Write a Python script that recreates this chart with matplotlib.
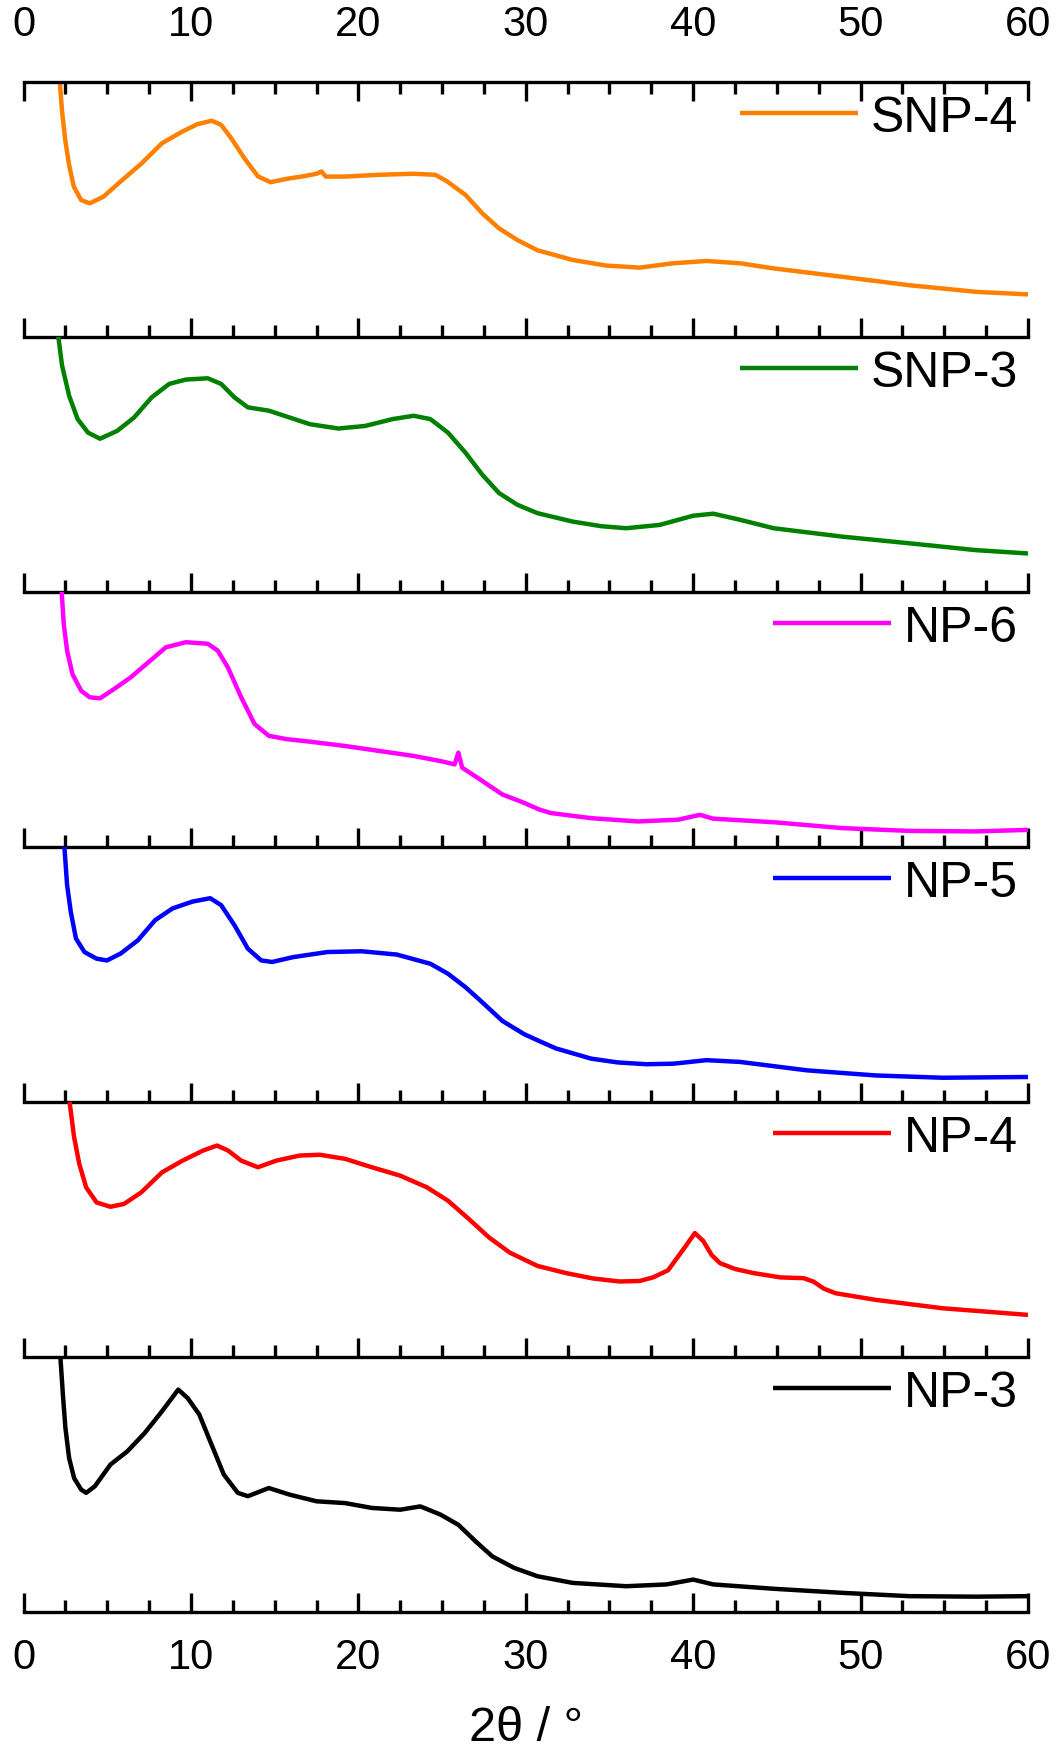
import numpy as np
import matplotlib
matplotlib.use('Agg')
import matplotlib.pyplot as plt
from matplotlib.ticker import MultipleLocator

plt.rcParams['font.family'] = ['Liberation Sans', 'DejaVu Sans']

# 2theta (deg) and intensity (normalised to panel height)
snp4_x = [2.05, 2.3, 2.5, 2.72, 3.0, 3.44, 3.95, 4.77, 5.8, 7.04, 8.27, 9.5, 10.4, 11.25,
          11.8, 12.4, 13.2, 14.0, 14.75, 15.7, 16.7, 17.5, 17.8, 18.05, 19.2, 21.2, 23.3,
          24.6, 25.3, 26.4, 27.4, 28.4, 29.5, 30.7, 32.8, 34.8, 36.8, 38.8, 40.8, 42.8,
          44.8, 48.9, 52.9, 56.9, 60.0]
snp4_y = [1.10, 0.885, 0.767, 0.675, 0.59, 0.537, 0.524, 0.55, 0.61, 0.68, 0.76, 0.806,
          0.835, 0.848, 0.832, 0.78, 0.70, 0.63, 0.607, 0.62, 0.63, 0.64, 0.649, 0.629,
          0.629, 0.636, 0.64, 0.636, 0.61, 0.557, 0.485, 0.426, 0.38, 0.34, 0.302, 0.28,
          0.272, 0.289, 0.298, 0.289, 0.269, 0.236, 0.203, 0.177, 0.167]

snp3_x = [1.98, 2.3, 2.72, 3.23, 3.85, 4.57, 5.6, 6.6, 7.65, 8.7, 9.7, 11.0, 11.8, 12.6,
          13.4, 14.65, 15.9, 17.1, 18.8, 20.4, 22.05, 23.3, 24.3, 25.35, 26.4, 27.4, 28.4,
          29.5, 30.7, 32.8, 34.5, 36.0, 38.0, 40.0, 41.2, 42.8, 44.8, 48.9, 52.9, 56.9, 60.0]
snp3_y = [1.05, 0.888, 0.77, 0.678, 0.625, 0.601, 0.632, 0.684, 0.763, 0.816, 0.833, 0.838,
          0.816, 0.763, 0.724, 0.711, 0.684, 0.658, 0.641, 0.651, 0.678, 0.691, 0.678, 0.625,
          0.546, 0.46, 0.388, 0.342, 0.309, 0.276, 0.258, 0.25, 0.263, 0.299, 0.307, 0.283,
          0.25, 0.217, 0.191, 0.164, 0.151]

np6_x = [2.2, 2.4, 2.6, 2.92, 3.44, 3.95, 4.57, 5.4, 6.4, 7.45, 8.5, 9.7, 11.0, 11.6, 12.2,
         13.0, 13.8, 14.65, 15.7, 17.1, 19.2, 21.2, 23.3, 24.9, 25.75, 25.97, 26.2, 27.4,
         28.6, 29.9, 30.8, 31.5, 33.9, 36.7, 39.1, 40.4, 41.2, 44.8, 48.9, 52.9, 56.9, 60.0]
np6_y = [1.08, 0.875, 0.77, 0.678, 0.613, 0.587, 0.583, 0.619, 0.665, 0.724, 0.783, 0.803,
         0.797, 0.77, 0.705, 0.587, 0.482, 0.436, 0.423, 0.413, 0.396, 0.377, 0.357, 0.337,
         0.324, 0.37, 0.311, 0.259, 0.206, 0.173, 0.147, 0.133, 0.113, 0.100, 0.107, 0.126,
         0.111, 0.097, 0.074, 0.063, 0.061, 0.067]

np5_x = [2.42, 2.6, 2.82, 3.13, 3.64, 4.36, 4.98, 5.8, 6.83, 7.86, 8.9, 10.1, 11.15, 11.8,
         12.6, 13.4, 14.2, 14.85, 16.1, 18.15, 20.2, 22.3, 24.3, 25.35, 26.4, 27.4, 28.6,
         29.9, 30.8, 31.8, 33.9, 35.5, 37.2, 38.8, 40.8, 42.8, 46.8, 50.9, 54.9, 60.0]
np5_y = [1.02, 0.851, 0.746, 0.641, 0.588, 0.562, 0.555, 0.582, 0.634, 0.713, 0.759, 0.786,
         0.799, 0.772, 0.693, 0.601, 0.555, 0.549, 0.568, 0.588, 0.591, 0.578, 0.542, 0.503,
         0.45, 0.391, 0.318, 0.266, 0.239, 0.21, 0.17, 0.155, 0.148, 0.15, 0.164, 0.157,
         0.124, 0.104, 0.095, 0.098]

np4_x = [2.75, 3.02, 3.33, 3.74, 4.36, 5.19, 6.0, 7.04, 8.27, 9.5, 10.74, 11.56, 12.2, 13.0,
         14.0, 15.1, 16.5, 17.7, 19.2, 20.8, 22.5, 24.1, 25.35, 26.6, 27.8, 29.05, 30.7,
         32.4, 34.0, 35.6, 36.8, 37.6, 38.5, 39.5, 40.1, 40.6, 41.1, 41.6, 42.5, 43.6,
         45.2, 46.6, 47.2, 47.8, 48.5, 50.9, 54.9, 60.0]
np4_y = [1.0, 0.862, 0.757, 0.665, 0.606, 0.589, 0.60, 0.646, 0.724, 0.77, 0.81, 0.829,
         0.81, 0.77, 0.744, 0.77, 0.79, 0.793, 0.777, 0.744, 0.711, 0.665, 0.613, 0.541,
         0.469, 0.409, 0.357, 0.329, 0.308, 0.296, 0.298, 0.312, 0.34, 0.43, 0.486, 0.455,
         0.40, 0.368, 0.345, 0.329, 0.312, 0.309, 0.295, 0.268, 0.25, 0.224, 0.191, 0.165]

np3_x = [2.18, 2.35, 2.5, 2.72, 3.02, 3.44, 3.74, 4.26, 5.19, 6.2, 7.24, 8.27, 9.24, 9.8,
         10.5, 11.15, 11.96, 12.8, 13.4, 14.65, 15.9, 17.5, 19.2, 20.8, 22.5, 23.7, 24.9,
         25.97, 27.0, 28.0, 29.3, 30.7, 32.8, 36.0, 38.4, 40.0, 41.2, 44.8, 48.9, 52.9,
         56.9, 60.0]
np3_y = [1.02, 0.852, 0.722, 0.604, 0.525, 0.48, 0.467, 0.493, 0.578, 0.63, 0.702, 0.787,
         0.872, 0.839, 0.774, 0.669, 0.539, 0.467, 0.454, 0.486, 0.46, 0.434, 0.427, 0.408,
         0.401, 0.414, 0.382, 0.342, 0.277, 0.218, 0.173, 0.14, 0.114, 0.101, 0.108, 0.127,
         0.108, 0.091, 0.075, 0.062, 0.060, 0.062]

labels = ['SNP-4', 'SNP-3', 'NP-6', 'NP-5', 'NP-4', 'NP-3']
colors = ['#FF8000', '#008000', '#FF00FF', '#0000FF', '#FF0000', '#000000']
xs = [snp4_x, snp3_x, np6_x, np5_x, np4_x, np3_x]
ys = [snp4_y, snp3_y, np6_y, np5_y, np4_y, np3_y]

fig, axes = plt.subplots(6, 1, figsize=(10.56, 17.58), dpi=100, sharex=True)
fig.subplots_adjust(left=0.0223, right=0.9735, top=0.9528, bottom=0.0825, hspace=0)

for i, ax in enumerate(axes):
    ax.plot(xs[i], ys[i], color=colors[i], lw=3.2, label=labels[i],
            solid_joinstyle='round', solid_capstyle='butt')
    ax.set_xlim(0, 60)
    ax.set_ylim(0, 1)
    ax.set_yticks([])
    ax.xaxis.set_major_locator(MultipleLocator(10))
    ax.xaxis.set_minor_locator(MultipleLocator(2.5))
    for s in ['left', 'right', 'top']:
        ax.spines[s].set_visible(False)
    ax.spines['bottom'].set_linewidth(2.4)
    ax.tick_params(axis='x', which='both', direction='in', width=2.4, labelsize=30,
                   labelbottom=(i == 5), pad=18)
    ax.tick_params(axis='x', which='major', length=14)
    ax.tick_params(axis='x', which='minor', length=8.5)
    ax.patch.set_alpha(0)
    ax.legend(loc='center right', bbox_to_anchor=(0.99, 0.86), frameon=False,
              fontsize=36, handlelength=2.36, handletextpad=0.26, borderpad=0,
              borderaxespad=0)

top = axes[0]
top.spines['top'].set_visible(True)
top.spines['top'].set_linewidth(2.4)
top.tick_params(axis='x', which='both', top=True, labeltop=True, pad=27)

axes[-1].set_xlabel('2θ / °', fontsize=35, labelpad=20)

fig.savefig('out.png', dpi=100)
